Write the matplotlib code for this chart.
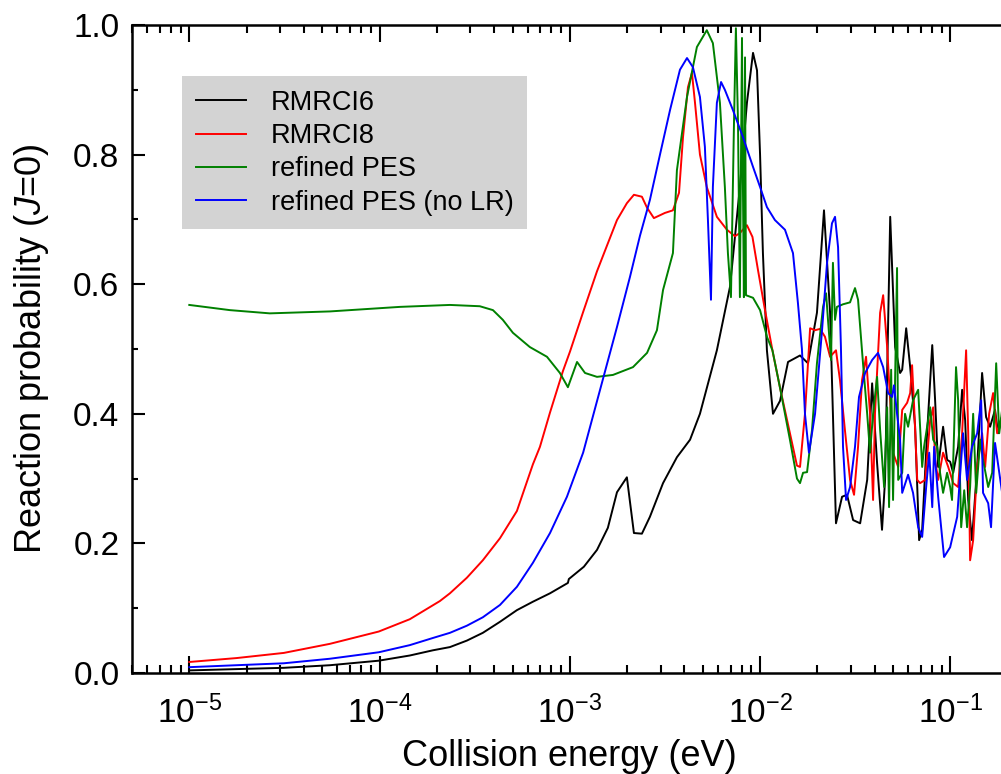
import numpy as np
import matplotlib
matplotlib.use("Agg")
import matplotlib.pyplot as plt
from matplotlib.ticker import LogLocator, LogFormatterSciNotation, NullFormatter, MultipleLocator, FormatStrFormatter

plt.rcParams['font.family'] = ['Liberation Sans', 'DejaVu Sans']
plt.rcParams['mathtext.fontset'] = 'custom'
plt.rcParams['mathtext.rm'] = 'Liberation Sans'
plt.rcParams['mathtext.it'] = 'Liberation Sans:italic'
plt.rcParams['mathtext.bf'] = 'Liberation Sans:bold'
plt.rcParams['mathtext.default'] = 'regular'

# log10 of collision energy (eV) and J=0 reaction probability for each PES
rmrci6_log_e = [-5.0, -4.753, -4.503, -4.261, -4.004, -3.841, -3.72, -3.63, -3.541, -3.457, -3.367,
                -3.278, -3.194, -3.104, -3.01, -3.005, -2.926,
                -2.857, -2.8, -2.752, -2.7, -2.663, -2.621, -2.579, -2.51, -2.437, -2.368, -2.316,
                -2.227, -2.158, -2.106, -2.069, -2.037, -2.016, -2.0, -1.985, -1.964, -1.932,
                -1.895, -1.853, -1.79, -1.748, -1.701, -1.664, -1.632, -1.601, -1.569, -1.543,
                -1.511, -1.474, -1.437, -1.411, -1.385, -1.359, -1.343, -1.316, -1.29, -1.264,
                -1.253, -1.232, -1.211, -1.185, -1.164, -1.148, -1.122, -1.095, -1.08, -1.064,
                -1.038, -1.017, -1.001, -0.985, -0.959, -0.938, -0.922, -0.906, -0.886, -0.859,
                -0.833, -0.812, -0.791, -0.765, -0.749, -0.717]
rmrci6_p = [0.004, 0.006, 0.008, 0.012, 0.019, 0.027, 0.035, 0.040, 0.050, 0.062, 0.079,
            0.097, 0.110, 0.123, 0.139, 0.145, 0.164,
            0.19, 0.224, 0.279, 0.302, 0.216, 0.215, 0.241, 0.293, 0.333, 0.36, 0.40,
            0.498, 0.596, 0.75, 0.88, 0.957, 0.93, 0.80, 0.648, 0.498, 0.40,
            0.42, 0.48, 0.49, 0.478, 0.556, 0.714, 0.556, 0.231, 0.272, 0.275,
            0.236, 0.231, 0.298, 0.447, 0.324, 0.221, 0.298, 0.704, 0.503, 0.463,
            0.468, 0.532, 0.472, 0.38, 0.205, 0.221, 0.37, 0.506, 0.421, 0.318,
            0.38, 0.329, 0.326, 0.309, 0.349, 0.437, 0.39, 0.267, 0.205, 0.318,
            0.463, 0.395, 0.38, 0.406, 0.37, 0.41]

rmrci8_log_e = [-5.0, -4.753, -4.503, -4.261, -4.004, -3.841, -3.683, -3.63, -3.541, -3.457, -3.367,
                -3.278, -3.194, -3.157, -3.104, -3.036,
                -2.999, -2.93, -2.857, -2.804, -2.752, -2.7, -2.663, -2.621, -2.594, -2.558, -2.5,
                -2.458, -2.426, -2.405, -2.379, -2.358, -2.342, -2.316, -2.28, -2.227, -2.174,
                -2.132, -2.106, -2.069, -2.04, -2.011, -1.974, -1.935, -1.895, -1.843, -1.806,
                -1.79, -1.764, -1.737, -1.711, -1.685, -1.659, -1.632, -1.601, -1.58, -1.554,
                -1.527, -1.506, -1.485, -1.464, -1.443, -1.422, -1.406, -1.396, -1.369, -1.353,
                -1.332, -1.301, -1.274, -1.253, -1.227, -1.211, -1.201, -1.19, -1.174, -1.159,
                -1.132, -1.106, -1.09, -1.08, -1.064, -1.038, -1.011, -0.985, -0.959, -0.938,
                -0.917, -0.906, -0.896, -0.88, -0.859, -0.833, -0.817, -0.796, -0.775, -0.754, -0.717]
rmrci8_p = [0.017, 0.023, 0.031, 0.045, 0.064, 0.083, 0.111, 0.123, 0.147, 0.174, 0.208,
            0.25, 0.322, 0.349, 0.402, 0.466,
            0.496, 0.557, 0.62, 0.66, 0.699, 0.725, 0.738, 0.735, 0.718, 0.702, 0.71,
            0.714, 0.741, 0.827, 0.904, 0.926, 0.88, 0.80, 0.75, 0.704, 0.684,
            0.674, 0.679, 0.691, 0.673, 0.622, 0.56, 0.498, 0.44, 0.37, 0.32,
            0.318, 0.40, 0.532, 0.529, 0.531, 0.519, 0.488, 0.498, 0.452, 0.375,
            0.298, 0.275, 0.349, 0.452, 0.488, 0.40, 0.267, 0.40, 0.556, 0.583,
            0.503, 0.34, 0.318, 0.406, 0.417, 0.432, 0.475, 0.41, 0.298, 0.293,
            0.298, 0.39, 0.41, 0.329, 0.298, 0.34, 0.318, 0.293, 0.287, 0.37,
            0.498, 0.37, 0.174, 0.205, 0.318, 0.37, 0.318, 0.40, 0.432, 0.37, 0.406]

refined_log_e = [-5.0, -4.787, -4.577, -4.26, -3.893, -3.63, -3.473, -3.404, -3.352, -3.299, -3.21, -3.12,
                 -3.052, -3.01, -2.962, -2.92, -2.857, -2.773, -2.668, -2.594, -2.542, -2.51, -2.458,
                 -2.437, -2.384, -2.332, -2.28, -2.248, -2.211, -2.185, -2.169, -2.153, -2.137,
                 -2.127, -2.116, -2.106, -2.095, -2.09, -2.085, -2.079, -2.074, -2.037, -2.0,
                 -1.964, -1.935, -1.895, -1.843, -1.806, -1.79, -1.774, -1.753, -1.727, -1.701,
                 -1.669, -1.653, -1.643, -1.627, -1.617, -1.606, -1.596, -1.564, -1.527, -1.501,
                 -1.485, -1.459, -1.437, -1.422, -1.406, -1.385, -1.369, -1.348, -1.332, -1.322,
                 -1.311, -1.301, -1.29, -1.28, -1.274, -1.253, -1.238, -1.222, -1.196, -1.169,
                 -1.148, -1.138, -1.122, -1.106, -1.09, -1.069, -1.054, -1.038, -1.017, -1.001,
                 -0.991, -0.97, -0.959, -0.943, -0.927, -0.912, -0.896, -0.88, -0.864, -0.843,
                 -0.828, -0.801, -0.78, -0.759, -0.743, -0.717]
refined_p = [0.568, 0.560, 0.555, 0.558, 0.565, 0.568, 0.566, 0.56, 0.545, 0.525, 0.503, 0.488,
             0.463, 0.441, 0.48, 0.463, 0.457, 0.46, 0.472, 0.494, 0.529, 0.591, 0.648,
             0.776, 0.889, 0.966, 0.992, 0.972, 0.88, 0.75, 0.648, 0.58, 0.85,
             0.995, 0.85, 0.58, 0.98, 0.75, 0.58, 0.95, 0.583, 0.579, 0.56,
             0.519, 0.498, 0.44, 0.36, 0.30, 0.293, 0.309, 0.31, 0.375, 0.478,
             0.565, 0.586, 0.545, 0.483, 0.633, 0.545, 0.565, 0.569, 0.572, 0.594,
             0.576, 0.478, 0.40, 0.34, 0.40, 0.457, 0.375, 0.287, 0.41, 0.256,
             0.468, 0.267, 0.457, 0.625, 0.298, 0.309, 0.40, 0.38, 0.421, 0.437,
             0.318, 0.349, 0.38, 0.41, 0.36, 0.349, 0.309, 0.278, 0.309, 0.287,
             0.267, 0.472, 0.421, 0.225, 0.282, 0.225, 0.287, 0.40, 0.278, 0.36,
             0.329, 0.287, 0.309, 0.478, 0.37, 0.432]

nolr_log_e = [-5.0, -4.753, -4.503, -4.261, -4.004, -3.841, -3.72, -3.63, -3.541, -3.457, -3.367,
              -3.278, -3.194, -3.104, -3.015, -2.93, -2.841,
              -2.752, -2.684, -2.631, -2.579, -2.526, -2.473, -2.421, -2.384, -2.353, -2.316, -2.29,
              -2.274, -2.258, -2.248, -2.227, -2.205, -2.185, -2.143, -2.09, -2.037, -2.0,
              -1.964, -1.922, -1.869, -1.827, -1.801, -1.78, -1.764, -1.743, -1.711, -1.674,
              -1.648, -1.622, -1.606, -1.59, -1.575, -1.564, -1.548, -1.527, -1.501, -1.48,
              -1.448, -1.411, -1.38, -1.353, -1.327, -1.306, -1.296, -1.28, -1.264, -1.253,
              -1.222, -1.196, -1.169, -1.148, -1.127, -1.111, -1.095, -1.085, -1.064, -1.033,
              -1.001, -0.964, -0.933, -0.912, -0.886, -0.859, -0.838, -0.828, -0.801, -0.786,
              -0.765, -0.717]
nolr_p = [0.009, 0.012, 0.015, 0.022, 0.032, 0.043, 0.054, 0.062, 0.073, 0.086, 0.105,
          0.133, 0.17, 0.216, 0.272, 0.34, 0.437,
          0.534, 0.611, 0.675, 0.73, 0.80, 0.869, 0.931, 0.949, 0.935, 0.889, 0.812,
          0.699, 0.576, 0.75, 0.88, 0.912, 0.90, 0.869, 0.827, 0.781, 0.75,
          0.719, 0.699, 0.684, 0.648, 0.571, 0.50, 0.40, 0.34, 0.40, 0.53,
          0.633, 0.694, 0.704, 0.657, 0.503, 0.349, 0.267, 0.287, 0.349, 0.426,
          0.463, 0.483, 0.494, 0.472, 0.432, 0.426, 0.444, 0.40, 0.36, 0.278,
          0.306, 0.278, 0.225, 0.21, 0.287, 0.34, 0.256, 0.349, 0.272, 0.179,
          0.194, 0.241, 0.37, 0.298, 0.349, 0.37, 0.421, 0.278, 0.262, 0.225,
          0.355, 0.256]

series = [
    ("RMRCI6", rmrci6_log_e, rmrci6_p, "black"),
    ("RMRCI8", rmrci8_log_e, rmrci8_p, "#ff0000"),
    ("refined PES", refined_log_e, refined_p, "#008000"),
    ("refined PES (no LR)", nolr_log_e, nolr_p, "#0000ff"),
]

fig = plt.figure(figsize=(10.01, 7.74), dpi=100)
ax = fig.add_axes([132 / 1001, 101 / 774, 875.6 / 1001, 648 / 774])

for label, log_e, p, color in series:
    ax.plot(10 ** np.asarray(log_e), p, color=color, lw=1.4, label=label)

ax.set_xscale("log")
ax.set_xlim(5e-6, 0.2)
ax.set_ylim(0.0, 1.0)

ax.xaxis.set_major_locator(LogLocator(base=10, numticks=20))
ax.xaxis.set_minor_locator(LogLocator(base=10, subs=np.arange(2, 10), numticks=20))
ax.xaxis.set_major_formatter(LogFormatterSciNotation())
ax.xaxis.set_minor_formatter(NullFormatter())
ax.yaxis.set_major_locator(MultipleLocator(0.2))
ax.yaxis.set_minor_locator(MultipleLocator(0.1))
ax.yaxis.set_major_formatter(FormatStrFormatter("%.1f"))

ax.tick_params(axis="x", which="major", direction="in", length=12.5, width=1.5,
               labelsize=24, pad=16, top=True)
ax.tick_params(axis="x", which="minor", direction="in", length=6, width=1.5, top=True)
ax.tick_params(axis="y", which="major", direction="in", length=9, width=1.5,
               labelsize=24, pad=9, right=False)
ax.tick_params(axis="y", which="minor", direction="in", length=4, width=1.5, right=False)

for side in ("left", "bottom", "top"):
    ax.spines[side].set_linewidth(1.8)
ax.spines["right"].set_visible(False)

ax.set_xlabel("Collision energy (eV)", fontsize=26, labelpad=7)
ax.set_ylabel(r"Reaction probability ($\mathit{J}$=0)", fontsize=26, labelpad=16)

leg = ax.legend(loc="upper left", bbox_to_anchor=(0.0571, 0.921), borderaxespad=0,
                fontsize=19.5, frameon=True, fancybox=False, facecolor="#d3d3d3",
                edgecolor="none", framealpha=1, handlelength=1.85, handletextpad=0.92,
                labelspacing=0.27, borderpad=0.5)

fig.savefig("out.png", dpi=100)
